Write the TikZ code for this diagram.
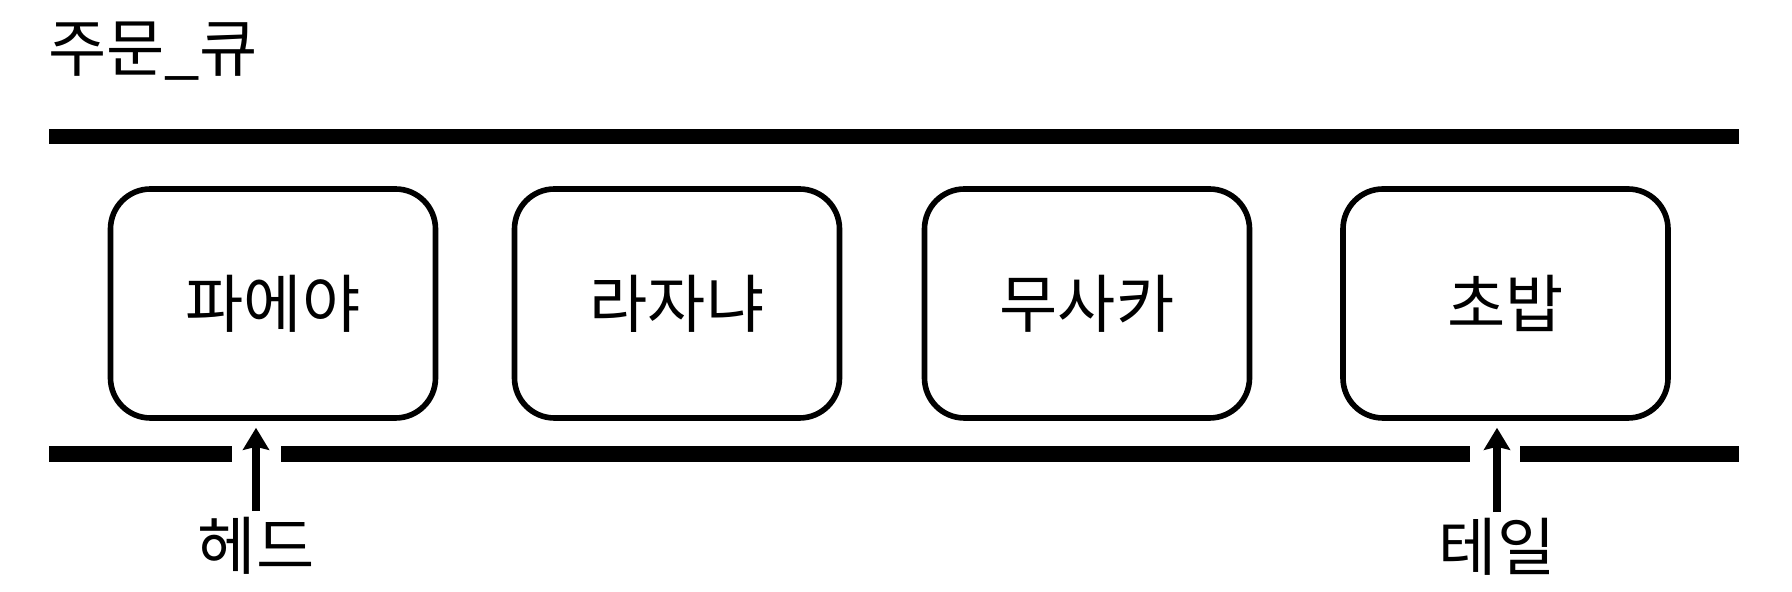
\documentclass[tikz,border=0pt]{standalone}
\usepackage{fontspec}
\setmainfont{Noto Sans CJK KR}
\usetikzlibrary{arrows.meta}

\begin{document}
\begin{tikzpicture}[
  item/.style={draw,line width=1.6pt,rounded corners=0.4cm,minimum width=3.25cm,minimum height=2.29cm,font=\fontsize{18}{20}\selectfont},
  lbl/.style={font=\fontsize{18}{20}\selectfont,inner sep=1pt},
  rail/.style={line width=4.3pt},
  ptr/.style={line width=2pt,-{Stealth[length=0.22cm,width=0.26cm,inset=0.03cm]}}]
\useasboundingbox (0,0) rectangle (17.92,5.92);
\node[lbl,anchor=west] (title) at (0.44,5.41) {주문\_큐};
\draw[rail] (0.49,4.555) -- (17.39,4.555);
\draw[rail] (0.49,1.38) -- (2.32,1.38);
\draw[rail] (2.81,1.38) -- (14.70,1.38);
\draw[rail] (15.20,1.38) -- (17.39,1.38);
\node[item] (b1) at (2.73,2.885) {파에야};
\node[item] (b2) at (6.77,2.885) {라자냐};
\node[item] (b3) at (10.87,2.885) {무사카};
\node[item] (b4) at (15.055,2.885) {초밥};
\node[lbl] (head) at (2.56,0.46) {헤드};
\node[lbl] (tail) at (14.97,0.45) {테일};
\draw[ptr,shorten <=0.02cm,shorten >=0.07cm] (head.north) -- (head.north |- b1.south);
\draw[ptr,shorten <=0.02cm,shorten >=0.07cm] (tail.north) -- (tail.north |- b4.south);
\end{tikzpicture}
\end{document}
